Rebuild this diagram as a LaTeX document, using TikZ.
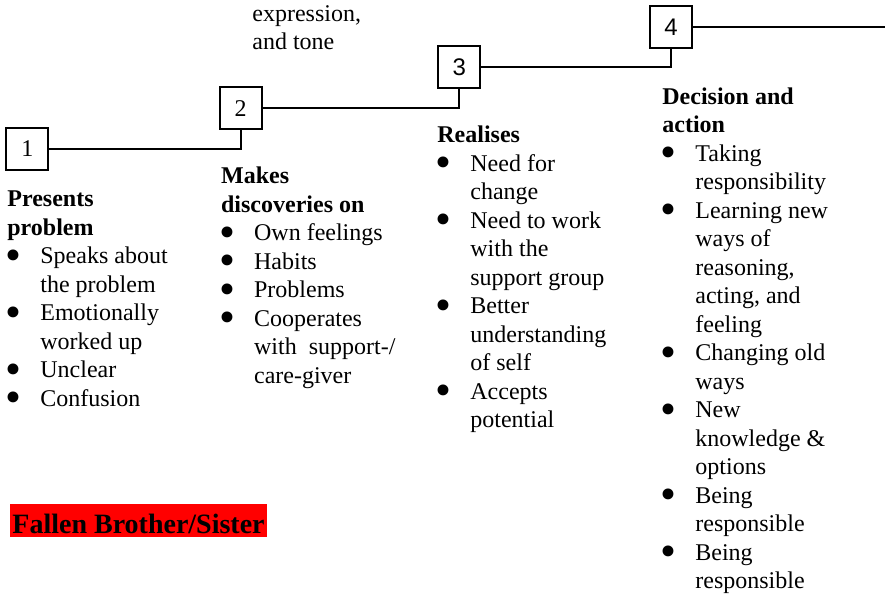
\documentclass[tikz,border=0pt]{standalone}
\usepackage{fontspec}
\setmainfont{Liberation Serif}
\newfontfamily\sansnum{Liberation Sans}
\usepackage{tikz}
\usetikzlibrary{positioning}
\tikzset{numbox/.style={draw=black, line width=1pt, minimum width=21pt, minimum height=21pt, inner sep=0pt, font=\fontsize{12}{14}\selectfont},
%one column of text, placed at the baseline of its first line
coltext/.style={anchor=base west, inner sep=0pt, font=\fontsize{12}{14.25}\selectfont},
stair/.style={draw=black, line width=1pt}}
\newcommand{\bul}{\makebox[16.5pt][l]{\hspace*{-0.8pt}\smash{\raisebox{-3.2pt}{\scalebox{1.9}{\textbullet}}}}}
\newcommand{\ind}{\hspace*{16.5pt}}

\begin{document}
\begin{tikzpicture}[x=0.5pt,y=-0.5pt]
  \useasboundingbox (0,0) rectangle (888,597);

  \node[numbox] at (27.3,148.7) (b1) {1};
  \node[numbox] at (240.7,108.3) (b2) {2};
  \node[numbox] at (459.2,67.3) (b3) {\sansnum 3};
  \node[numbox] at (671,27.2) (b4) {\sansnum 4};
  \coordinate (e4) at (885,27.2);

  \draw[stair] (b1.east) -| (b2.south);
  \draw[stair] (b2.east) -| (b3.south);
  \draw[stair] (b3.east) -| (b4.south);
  \draw[stair] (b4.east) -- (e4);

  \node[coltext] at (252,21.5) (top) {\begin{tabular}[t]{@{}l@{}}
    expression,\\ and tone\end{tabular}};

  \node[coltext] at (7,206.7) (c1) {\begin{tabular}[t]{@{}l@{}}
    \textbf{Presents}\\ \textbf{problem}\\
    \bul Speaks about\\ \ind the problem\\
    \bul Emotionally\\ \ind worked up\\
    \bul Unclear\\
    \bul Confusion\end{tabular}};

  \node[coltext] at (220.7,184) (c2) {\begin{tabular}[t]{@{}l@{}}
    \textbf{Makes}\\ \textbf{discoveries on}\\
    \bul Own feelings\\
    \bul Habits\\
    \bul Problems\\
    \bul Cooperates\\ \ind with\ \ support-/\\ \ind care-giver\end{tabular}};

  \node[coltext] at (437,143) (c3) {\begin{tabular}[t]{@{}l@{}}
    \textbf{Realises}\\
    \bul Need for\\ \ind change\\
    \bul Need to work\\ \ind with the\\ \ind support group\\
    \bul Better\\ \ind understanding\\ \ind of self\\
    \bul Accepts\\ \ind potential\end{tabular}};

  \node[coltext] at (662,104.3) (c4) {\begin{tabular}[t]{@{}l@{}}
    \textbf{Decision and}\\ \textbf{action}\\
    \bul Taking\\ \ind responsibility\\
    \bul Learning new\\ \ind ways of\\ \ind reasoning,\\ \ind acting, and\\ \ind feeling\\
    \bul Changing old\\ \ind ways\\
    \bul New\\ \ind knowledge \&\\ \ind options\\
    \bul Being\\ \ind responsible\\
    \bul Being\\ \ind responsible\end{tabular}};

  \node[anchor=base west, fill=red, inner xsep=1pt, inner ysep=0pt, text height=14.6pt, text depth=1.7pt,
    font=\fontsize{14}{16}\selectfont\bfseries] at (10,533.3) (fallen) {Fallen Brother/Sister};
\end{tikzpicture}
\end{document}
